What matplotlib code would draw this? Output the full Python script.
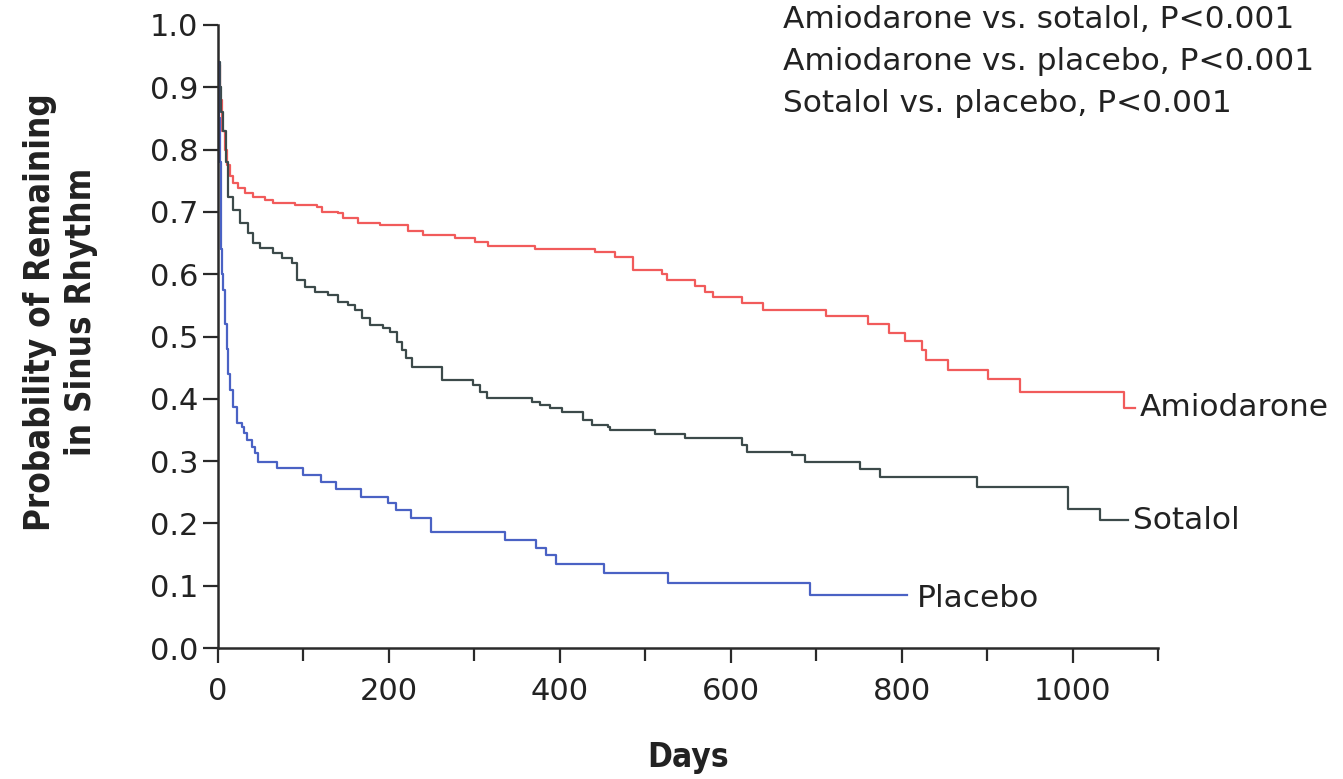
import matplotlib
matplotlib.use("Agg")
import matplotlib.pyplot as plt
from matplotlib.ticker import MultipleLocator

plt.rcParams['font.family'] = ['DejaVu Sans']

# ---- data ----
amio_days = [0, 2, 5, 8, 11, 14, 18, 23, 32, 41, 55, 64, 90, 116, 122, 140, 146, 164,
             190, 222, 240, 277, 301, 316, 371, 441, 465, 486, 520, 525, 558, 570, 579,
             613, 638, 712, 761, 785, 804, 824, 828, 854, 901, 938, 1060, 1073]
amio_surv = [0.935, 0.88, 0.83, 0.80, 0.775, 0.757, 0.746, 0.738, 0.730, 0.724, 0.719,
             0.714, 0.711, 0.708, 0.700, 0.698, 0.690, 0.682, 0.679, 0.670, 0.663, 0.658,
             0.652, 0.646, 0.640, 0.635, 0.627, 0.607, 0.600, 0.590, 0.581, 0.572, 0.564,
             0.553, 0.543, 0.533, 0.520, 0.505, 0.493, 0.478, 0.462, 0.447, 0.431, 0.411,
             0.386, 0.386]

sota_days = [0, 2, 4, 6, 9, 12, 18, 26, 35, 41, 49, 64, 75, 87, 92, 102, 114, 129, 140,
             152, 160, 168, 178, 193, 201, 209, 215, 220, 227, 262, 298, 307, 315, 367,
             377, 388, 403, 427, 438, 456, 459, 511, 546, 613, 619, 672, 687, 751, 775,
             888, 995, 1032, 1065]
sota_surv = [0.94, 0.90, 0.86, 0.83, 0.78, 0.724, 0.703, 0.682, 0.666, 0.650, 0.642,
             0.634, 0.626, 0.618, 0.591, 0.580, 0.571, 0.567, 0.555, 0.551, 0.543, 0.530,
             0.518, 0.514, 0.507, 0.491, 0.478, 0.465, 0.451, 0.430, 0.422, 0.411, 0.401,
             0.395, 0.390, 0.385, 0.379, 0.366, 0.358, 0.355, 0.350, 0.343, 0.337, 0.326,
             0.315, 0.310, 0.299, 0.287, 0.274, 0.259, 0.223, 0.205, 0.205]

plac_days = [0, 1, 2, 3, 4, 5, 6, 8, 10, 12, 14, 17, 22, 28, 30, 34, 40, 43, 47, 69, 99,
             121, 138, 167, 199, 208, 226, 249, 336, 372, 384, 395, 452, 527, 693, 806]
plac_surv = [0.94, 0.85, 0.78, 0.70, 0.64, 0.60, 0.575, 0.52, 0.48, 0.44, 0.414, 0.387,
             0.361, 0.355, 0.345, 0.334, 0.323, 0.313, 0.299, 0.289, 0.278, 0.267, 0.255,
             0.243, 0.232, 0.222, 0.209, 0.186, 0.173, 0.160, 0.149, 0.135, 0.120, 0.105,
             0.085, 0.085]

series_names = ["Amiodarone", "Sotalol", "Placebo"]
p_texts = ["Amiodarone vs. sotalol, P<0.001",
           "Amiodarone vs. placebo, P<0.001",
           "Sotalol vs. placebo, P<0.001"]
x_ticks = [0, 200, 400, 600, 800, 1000]
y_ticks = [0.0, 0.1, 0.2, 0.3, 0.4, 0.5, 0.6, 0.7, 0.8, 0.9, 1.0]

# ---- styling ----
W, H = 1343, 779
fig = plt.figure(figsize=(W / 100, H / 100), dpi=100)
ax = fig.add_axes([218 / W, 1 - 648 / H, 940 / W, 623 / H])

red = "#f15b5b"
gray = "#3c4a4a"
blue = "#4a62c4"
txt = "#222222"
FS = 22.5

ax.step(amio_days, amio_surv, where='post', color=red, lw=1.6)
ax.step(sota_days, sota_surv, where='post', color=gray, lw=1.6)
ax.step(plac_days, plac_surv, where='post', color=blue, lw=1.6)

ax.set_xlim(0, 1100)
ax.set_ylim(0, 1.0)
for s in ['top', 'right']:
    ax.spines[s].set_visible(False)
for s in ['left', 'bottom']:
    ax.spines[s].set_linewidth(1.8)
    ax.spines[s].set_color("#2a2a2a")
    ax.spines[s].set_capstyle('projecting')

ax.set_xticks(x_ticks)
ax.set_xticklabels([str(v) for v in x_ticks])
ax.xaxis.set_minor_locator(MultipleLocator(100))
ax.set_yticks(y_ticks)
ax.set_yticklabels([f"{v:.1f}" for v in y_ticks])
ax.tick_params(axis='both', which='major', direction='out', length=11, width=1.6,
               color="#2a2a2a", labelsize=22, labelcolor=txt, pad=3)
ax.tick_params(axis='x', which='minor', direction='out', length=9, width=1.6,
               color="#2a2a2a")
ax.tick_params(axis='x', which='major', pad=10)

# curve end labels
ax.text(1073 + 6, amio_surv[-1], series_names[0], fontsize=FS, color=txt,
        va='center', ha='left')
ax.text(1065 + 6, sota_surv[-1], series_names[1], fontsize=FS, color=txt,
        va='center', ha='left')
ax.text(806 + 12, plac_surv[-1] - 0.005, series_names[2], fontsize=FS, color=txt,
        va='center', ha='left')

# p-value text block
for i, t in enumerate(p_texts):
    fig.text(783 / W, 1 - (19 + 42 * i) / H, t, fontsize=FS, color=txt,
             ha='left', va='center')

# axis labels
fig.text(40 / W, 1 - 312 / H, "Probability of Remaining", rotation=90,
         fontsize=25, fontweight='bold', fontstretch='condensed', color=txt,
         ha='center', va='center')
fig.text(81 / W, 1 - 312 / H, "in Sinus Rhythm", rotation=90,
         fontsize=25, fontweight='bold', fontstretch='condensed', color=txt,
         ha='center', va='center')
fig.text(688 / W, 1 - 757 / H, "Days", fontsize=24, fontweight='bold',
         fontstretch='condensed', color=txt, ha='center', va='center')

fig.savefig("out.png", dpi=100)
